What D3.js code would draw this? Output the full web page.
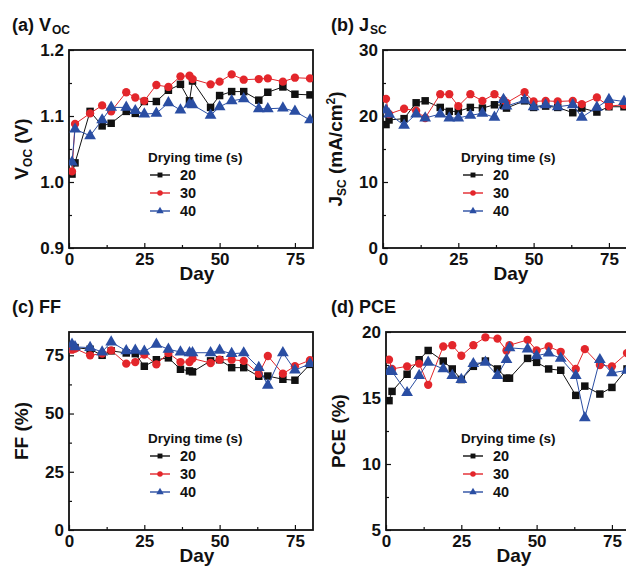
<!DOCTYPE html>
<html>
<head>
<meta charset="utf-8">
<script src="https://cdn.jsdelivr.net/npm/d3@7"></script>
<style>
  body { margin: 0; background: #fff; }
  svg { display: block; font-family: "Liberation Sans", Arial, sans-serif; font-weight: bold; }
</style>
</head>
<body>
<svg id="chart" width="626" height="566"></svg>
<script>
// measurement days (shared by all series)
const days = [1, 2, 7, 11, 14, 19, 22, 25, 29, 33, 37, 40, 41, 47, 50, 54, 58, 63, 66, 71, 75, 80];
const dryingTimes = ["20", "30", "40"];
const xTicks = [0, 25, 50, 75];

// (a) Voc (V)
const voc20 = [1.012, 1.029, 1.107, 1.085, 1.089, 1.107, 1.104, 1.122, 1.122, 1.139, 1.148, 1.123, 1.153, 1.113, 1.131, 1.137, 1.137, 1.124, 1.136, 1.144, 1.133, 1.132];
const voc30 = [1.016, 1.088, 1.104, 1.116, 1.107, 1.136, 1.128, 1.123, 1.147, 1.144, 1.160, 1.161, 1.156, 1.148, 1.152, 1.163, 1.155, 1.156, 1.157, 1.152, 1.158, 1.157];
const voc40 = [1.030, 1.080, 1.070, 1.094, 1.113, 1.113, 1.108, 1.103, 1.104, 1.120, 1.109, 1.118, 1.117, 1.101, 1.114, 1.123, 1.126, 1.111, 1.111, 1.112, 1.107, 1.094];

// (b) Jsc (mA/cm2)
const jsc20 = [18.7, 19.4, 19.6, 22.0, 22.3, 21.3, 20.7, 20.7, 21.3, 21.2, 21.7, 21.6, 21.2, 22.3, 21.3, 21.5, 21.3, 20.5, 21.2, 20.6, 21.4, 21.4];
const jsc30 = [22.6, 20.3, 21.1, 20.8, 19.7, 23.3, 23.3, 21.5, 23.3, 22.3, 23.3, 22.4, 22.0, 23.6, 22.2, 22.3, 22.2, 22.3, 21.8, 22.8, 21.5, 21.7];
const jsc40 = [20.9, 20.3, 18.6, 20.3, 19.7, 20.3, 19.7, 19.7, 20.1, 20.4, 19.8, 22.5, 21.5, 22.4, 21.4, 21.7, 21.4, 21.7, 19.8, 21.3, 22.5, 22.2];

// (c) FF (%)
const ff20 = [77.9, 78.3, 77.6, 75.0, 76.9, 76.0, 75.7, 70.3, 73.1, 73.9, 69.0, 68.3, 67.9, 72.6, 73.1, 69.7, 69.7, 66.0, 66.1, 64.7, 64.3, 71.1];
const ff30 = [77.4, 77.9, 75.0, 75.7, 77.1, 71.4, 72.1, 75.3, 71.1, 76.0, 72.1, 72.1, 73.6, 71.7, 73.1, 73.1, 72.6, 67.1, 74.7, 67.1, 70.3, 72.9];
const ff40 = [79.7, 78.6, 78.3, 76.4, 80.7, 76.9, 77.1, 76.7, 79.7, 77.6, 76.4, 76.1, 76.1, 76.1, 77.1, 75.7, 76.0, 69.7, 62.1, 76.1, 68.6, 71.4];

// (d) PCE (%)
const pce20 = [14.8, 15.5, 16.8, 17.9, 18.6, 17.8, 17.2, 16.4, 17.4, 17.8, 17.2, 16.5, 16.5, 18.0, 17.7, 17.2, 17.1, 15.2, 15.9, 15.3, 15.8, 17.2];
const pce30 = [17.9, 17.2, 17.4, 17.6, 16.0, 18.9, 19.0, 18.2, 19.0, 19.6, 19.5, 18.6, 19.0, 19.4, 18.6, 18.9, 18.5, 17.2, 18.7, 17.5, 17.4, 18.4];
const pce40 = [17.0, 17.0, 15.4, 16.7, 17.7, 17.2, 16.7, 16.4, 17.6, 17.7, 16.7, 17.9, 18.8, 18.7, 18.2, 18.4, 18.0, 16.7, 13.5, 17.9, 16.9, 17.1];

const colors = ["#111111", "#e3262b", "#2a4ea3"];
const symbols = [d3.symbolSquare, d3.symbolCircle, d3.symbolTriangle];
const symSizes = [56, 54, 60];

const svg = d3.select("#chart");
const pw = 244, ph = 198;

const panels = [
  { id: "a", x: 69, y: 50, title: ["(a) V", "OC"], ylabel: [["V", 0], ["OC", 1], [" (V)", 0]],
    domain: [0.9, 1.2], ticks: [0.9, 1.0, 1.1, 1.2], minor: [0.95, 1.05, 1.15], fmt: d3.format(".1f"),
    series: [voc20, voc30, voc40], legendX: 79, legendY: 112 },
  { id: "b", x: 383, y: 50, title: ["(b) J", "SC"], ylabel: [["J", 0], ["SC", 1], [" (mA/cm", 0], ["2", 2], [")", 0]],
    domain: [0, 30], ticks: [0, 10, 20, 30], minor: [5, 15, 25], fmt: d3.format("d"),
    series: [jsc20, jsc30, jsc40], legendX: 78, legendY: 112 },
  { id: "c", x: 69, y: 332, title: ["(c) FF", ""], ylabel: [["FF (%)", 0]],
    domain: [0, 85], ticks: [0, 25, 50, 75], minor: [12.5, 37.5, 62.5], fmt: d3.format("d"),
    series: [ff20, ff30, ff40], legendX: 79, legendY: 111 },
  { id: "d", x: 386, y: 332, title: ["(d) PCE", ""], ylabel: [["PCE (%)", 0]],
    domain: [5, 20], ticks: [5, 10, 15, 20], minor: [7.5, 12.5, 17.5], fmt: d3.format("d"),
    series: [pce20, pce30, pce40], legendX: 75, legendY: 111 }
];

panels.forEach(p => {
  const g = svg.append("g").attr("transform", `translate(${p.x},${p.y})`);
  const x = d3.scaleLinear().domain([0, 81]).range([0, pw]);
  const y = d3.scaleLinear().domain(p.domain).range([ph, 0]);

  // panel title
  const t = svg.append("text").attr("x", p.x - 57).attr("y", p.y - 19)
    .attr("font-size", 18).attr("fill", "#111");
  if (p.id === "b" || p.id === "d") t.attr("x", 331);
  t.append("tspan").text(p.title[0]);
  if (p.title[1]) t.append("tspan").attr("font-size", 12).attr("dy", 3).attr("dx", 1).text(p.title[1]);

  // axes (ticks point inward)
  g.append("g").attr("transform", `translate(0,${ph})`)
    .call(d3.axisBottom(x).tickValues(xTicks).tickSize(-5).tickPadding(5).tickFormat(d3.format("d")))
    .call(a => a.selectAll("text").attr("font-size", 17).attr("font-weight", "bold").attr("fill", "#111").attr("font-family", "Liberation Sans, Arial"));
  g.append("g").attr("transform", `translate(0,${ph})`)
    .call(d3.axisBottom(x).tickValues([12.5, 37.5, 62.5]).tickSize(-3).tickFormat(""));
  g.append("g")
    .call(d3.axisLeft(y).tickValues(p.ticks).tickSize(-5).tickPadding(5).tickFormat(p.fmt))
    .call(a => a.selectAll("text").attr("font-size", 17).attr("font-weight", "bold").attr("fill", "#111").attr("font-family", "Liberation Sans, Arial"));
  g.append("g")
    .call(d3.axisLeft(y).tickValues(p.minor).tickSize(-3).tickFormat(""));
  g.selectAll(".domain").remove();
  g.selectAll(".tick line").attr("stroke", "#111").attr("stroke-width", 1.2);

  // frame
  g.append("rect").attr("width", pw).attr("height", ph)
    .attr("fill", "none").attr("stroke", "#111").attr("stroke-width", 1.8);

  // x label
  g.append("text").attr("x", 128).attr("y", ph + 32).attr("text-anchor", "middle")
    .attr("font-size", 19).attr("fill", "#111").text("Day");

  // y label
  const yl = g.append("text").attr("transform", `translate(-41,${ph / 2}) rotate(-90)`)
    .attr("text-anchor", "middle").attr("font-size", 19).attr("fill", "#111");
  let shift = 0;
  p.ylabel.forEach(([s, kind]) => {
    const ts = yl.append("tspan").text(s);
    const target = kind === 1 ? 4 : kind === 2 ? -7 : 0;
    if (kind) ts.attr("font-size", 12);
    if (target !== shift) { ts.attr("dy", target - shift); shift = target; }
  });

  // data
  const clipId = "clip-" + p.id;
  g.append("clipPath").attr("id", clipId).append("rect").attr("width", pw).attr("height", ph);
  const plot = g.append("g").attr("clip-path", `url(#${clipId})`);
  const line = d3.line().x(d => x(d[0])).y(d => y(d[1]));

  p.series.forEach((vals, i) => {
    const pts = days.map((d, k) => [d, vals[k]]);
    plot.append("path").datum(pts).attr("d", line)
      .attr("fill", "none").attr("stroke", colors[i]).attr("stroke-width", 1);
    plot.selectAll(".m" + i).data(pts).join("path")
      .attr("transform", d => `translate(${x(d[0])},${y(d[1])})`)
      .attr("d", d3.symbol().type(symbols[i]).size(symSizes[i]))
      .attr("fill", colors[i]);
  });

  // legend
  const lg = g.append("g").attr("transform", `translate(${p.legendX},${p.legendY})`);
  lg.append("text").attr("x", 0).attr("y", 0).attr("font-size", 13.5).attr("fill", "#111")
    .text("Drying time (s)");
  dryingTimes.forEach((s, i) => {
    const yy = 18 + i * 18;
    lg.append("line").attr("x1", 2).attr("x2", 22).attr("y1", yy - 5).attr("y2", yy - 5)
      .attr("stroke", colors[i]).attr("stroke-width", 1.4);
    lg.append("path").attr("transform", `translate(12,${yy - 5})`)
      .attr("d", d3.symbol().type(symbols[i]).size(24))
      .attr("fill", colors[i]);
    lg.append("text").attr("x", 32).attr("y", yy).attr("font-size", 14.5).attr("fill", "#111").text(s);
  });
});
</script>
</body>
</html>
